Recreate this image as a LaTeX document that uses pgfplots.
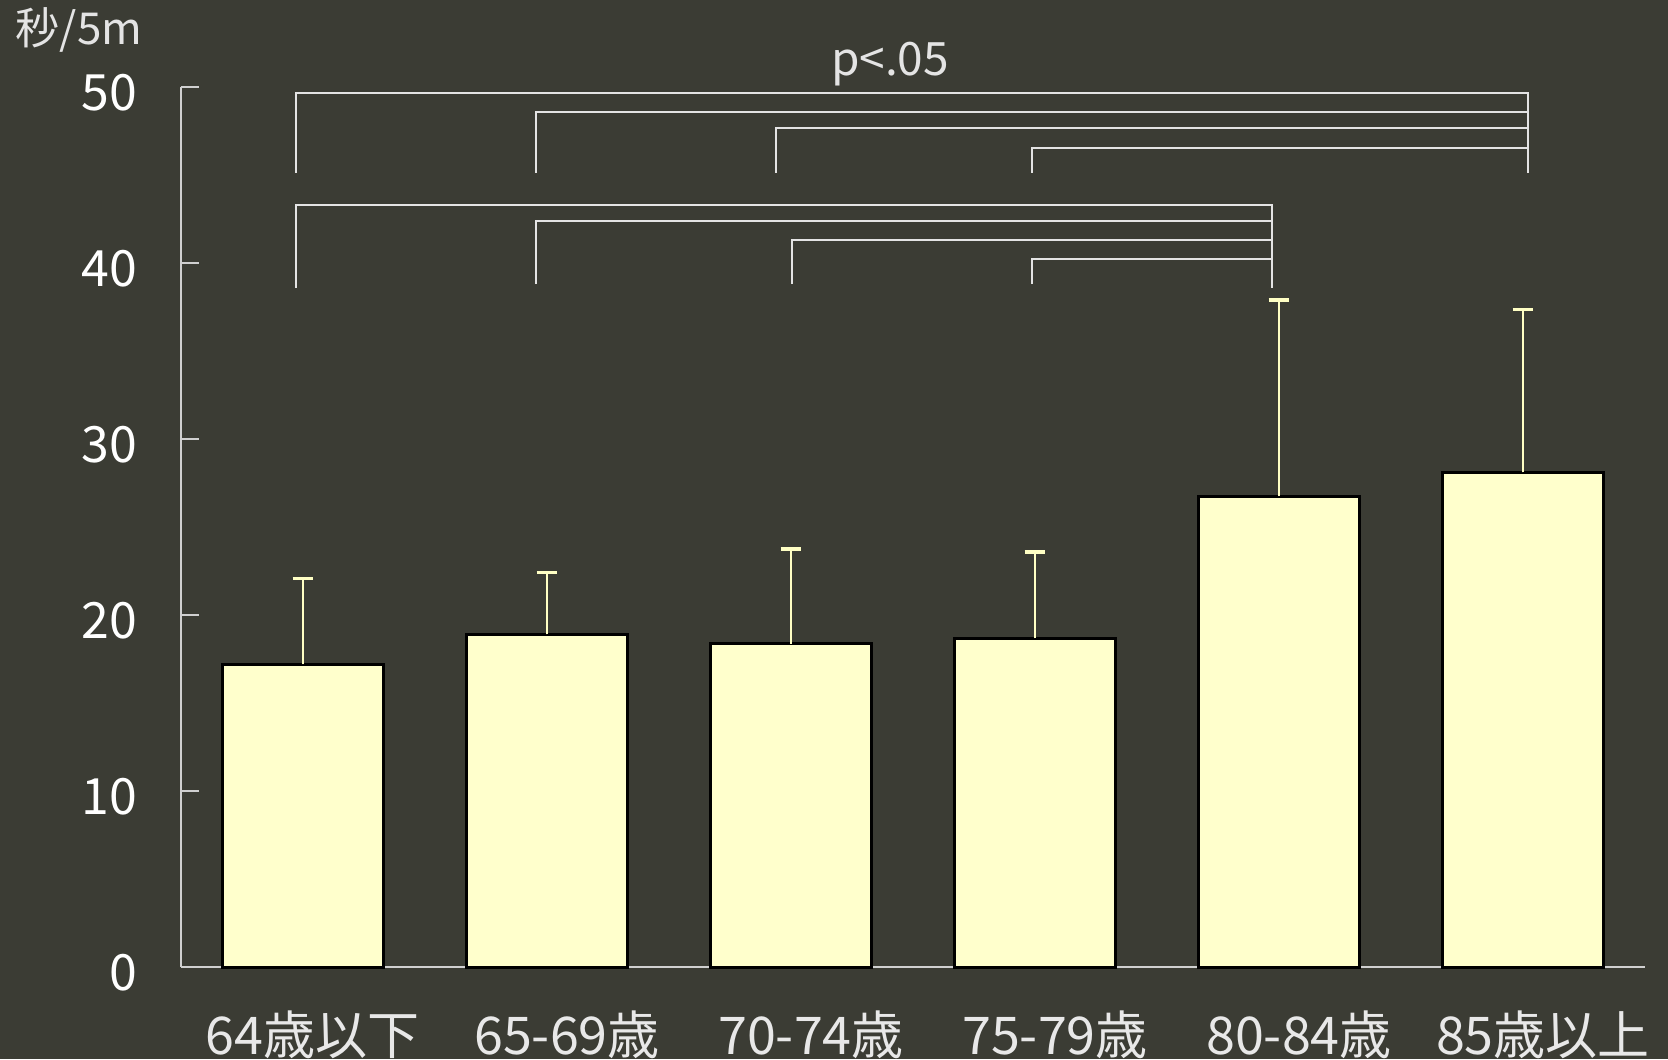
\documentclass[border=0pt]{standalone}
\usepackage{pgfplots}
\pgfplotsset{compat=1.18}
\usepackage{fontspec}
\setmainfont{Noto Sans CJK JP}
\definecolor{bg}{HTML}{3B3C34}
\definecolor{barfill}{HTML}{FFFFCC}
\definecolor{errcol}{HTML}{FFFFC4}
\definecolor{brk}{HTML}{E4E4E4}
\definecolor{axiscol}{HTML}{D0D0D0}
\definecolor{labcol}{HTML}{E8E8E8}
\pgfplotstableread{
x y e
0 17.2 4.88
1 18.9 3.50
2 18.37 5.38
3 18.68 4.89
4 26.76 11.14
5 28.1 9.27
}\bars
\begin{document}
\begin{tikzpicture}
\useasboundingbox (0,0) rectangle (417pt,264.75pt);
\fill[bg] (0,0) rectangle (417pt,264.75pt);
\begin{axis}[
  at={(45.25pt,23pt)}, anchor=south west,
  scale only axis, width=366pt, height=220pt,
  xmin=-0.5, xmax=5.5, ymin=0, ymax=50,
  axis x line*=bottom, axis y line*=left,
  axis line style={draw=axiscol, line width=0.45pt},
  xtick={0,...,5},
  xticklabels={\hspace*{-5.4pt}64歳以下,65-69歳,70-74歳,75-79歳,80-84歳,85歳以上},
  x tick style={draw=none},
  ytick={0,10,...,50},
  y tick style={draw=axiscol, line width=0.45pt},
  tick align=inside, major tick length=4.5pt,
  yticklabel style={font=\fontsize{12.5}{14}\selectfont, text=white, xshift=-7.5pt, yshift=-1.4pt},
  xticklabel style={font=\fontsize{13}{15}\selectfont, text=labcol, xshift=5pt, yshift=-7.3pt},
  /pgf/number format/assume math mode=true,
  clip=false,
]
\addplot[ybar, bar width=0.66, fill=barfill, draw=black, line width=0.75pt,
  error bars/.cd, y dir=plus, y explicit,
  error bar style={color=errcol, line width=0.7pt},
  error mark options={rotate=90, color=errcol, line width=0.85pt, mark size=2.6pt}]
  table[x=x, y=y, y error=e]{\bars};
\addplot[brk, line width=0.5pt, forget plot] coordinates {(-0.03,45.13) (-0.03,49.66) (5.02,49.66) (5.02,45.13)};
\addplot[brk, line width=0.5pt, forget plot] coordinates {(0.955,45.13) (0.955,48.58) (5.02,48.58)};
\addplot[brk, line width=0.5pt, forget plot] coordinates {(1.937,45.13) (1.937,47.67) (5.02,47.67)};
\addplot[brk, line width=0.5pt, forget plot] coordinates {(2.988,45.13) (2.988,46.55) (5.02,46.55)};
\addplot[brk, line width=0.5pt, forget plot] coordinates {(-0.03,38.6) (-0.03,43.3) (3.973,43.3) (3.973,38.6)};
\addplot[brk, line width=0.5pt, forget plot] coordinates {(0.955,38.8) (0.955,42.39) (3.973,42.39)};
\addplot[brk, line width=0.5pt, forget plot] coordinates {(2.005,38.8) (2.005,41.31) (3.973,41.31)};
\addplot[brk, line width=0.5pt, forget plot] coordinates {(2.988,38.8) (2.988,40.2) (3.973,40.2)};
\end{axis}
\node[anchor=base, inner sep=0, text=brk, font=\fontsize{11.5}{13}\selectfont] at (222.5pt,245.75pt) {p<.05};
\node[anchor=base west, inner sep=0, text=brk, font=\fontsize{11}{13}\selectfont] at (3.75pt,253.5pt) {秒/5m};
\end{tikzpicture}
\end{document}
